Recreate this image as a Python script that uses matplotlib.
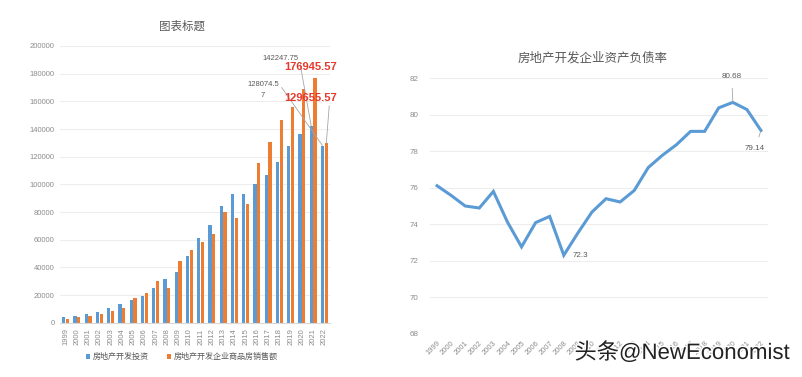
import matplotlib
matplotlib.use("Agg")
import matplotlib.pyplot as plt
import matplotlib.patheffects as pe
import numpy as np

plt.rcParams['font.family'] = ['Liberation Sans', 'Noto Sans CJK SC', 'DejaVu Sans']

years = [str(y) for y in range(1999, 2023)]

# 房地产开发投资 / 房地产开发企业商品房销售额
invest = [3900, 5060, 6300, 7950, 10400, 13300, 16200, 19500, 25300, 31370,
          36430, 48200, 61000, 70600, 84100, 92800, 93240, 100000, 106500,
          116150, 127500, 136400, 142247.75, 128074.57]
sales = [2900, 4100, 5060, 6300, 8240, 10850, 18070, 21250, 29900, 25300,
         44600, 52770, 58330, 63900, 80230, 75460, 86000, 115400, 130800,
         146300, 155700, 168900, 176945.57, 129655.57]

# 房地产开发企业资产负债率
ratio = [76.11, 75.58, 75.0, 74.89, 75.8, 74.12, 72.76, 74.09, 74.43, 72.3,
         73.52, 74.67, 75.4, 75.22, 75.85, 77.11, 77.78, 78.36, 79.09, 79.09,
         80.38, 80.68, 80.29, 79.14]

W, H = 802, 377
fig = plt.figure(figsize=(W / 100, H / 100), dpi=100)
fig.patch.set_facecolor('white')

blue = '#5B9BD5'
orange = '#ED7D31'
tick_c = '#8C8C8C'
grid_c = '#EDEDED'

# ---- left: bar chart ----
ax1 = fig.add_axes([60 / W, 1 - 322.7 / H, 270 / W, 276.7 / H])
x = np.arange(len(years))
bw = 0.3
ax1.bar(x - 0.17, invest, bw, color=blue, label='房地产开发投资')
ax1.bar(x + 0.17, sales, bw, color=orange, label='房地产开发企业商品房销售额')
ax1.set_xlim(-0.5, len(years) - 0.5)
ax1.set_ylim(0, 200000)
ax1.set_yticks(np.arange(0, 200001, 20000))
ax1.set_yticklabels([str(v) for v in range(0, 200001, 20000)], fontsize=5.5, color=tick_c)
ax1.set_xticks(x)
ax1.set_xticklabels(years, rotation=90, fontsize=5.5, color=tick_c)
ax1.tick_params(length=0, pad=4)
ax1.grid(axis='y', color=grid_c, linewidth=0.8)
ax1.set_axisbelow(True)
for s in ['top', 'right', 'left']:
    ax1.spines[s].set_visible(False)
ax1.spines['bottom'].set_color('#D9D9D9')
ax1.spines['bottom'].set_linewidth(0.8)

fig.text(182 / W, 1 - 27 / H, '图表标题', ha='center', va='center', fontsize=8.3, color='#595959')

leg = ax1.legend(loc='center', bbox_to_anchor=(182 / W, 1 - 357 / H), bbox_transform=fig.transFigure,
                 ncol=2, frameon=False, fontsize=5.8, handlelength=0.5, handleheight=0.5,
                 columnspacing=2.2, handletextpad=0.4)
for t in leg.get_texts():
    t.set_color('#595959')

lead = dict(arrowstyle='-', color='#A6A6A6', lw=0.6)
ax1.annotate('142247.75', xy=(22 - 0.17, invest[22]), xytext=(281, H - 58),
             textcoords='figure pixels', ha='center', va='center', fontsize=5.5, color='#595959',
             arrowprops=dict(lead, shrinkA=0, shrinkB=0, relpos=(1, 0.5)))
ax1.annotate('128074.5\n7', xy=(23 - 0.17, invest[23]), xytext=(263, H - 90),
             textcoords='figure pixels', ha='center', va='center', fontsize=5.5, color='#595959',
             linespacing=1.9, arrowprops=dict(lead, shrinkA=0, shrinkB=0, relpos=(1, 0.85)))
ax1.annotate('176945.57', xy=(22 + 0.17, sales[22]), xytext=(311, H - 67),
             textcoords='figure pixels', ha='center', va='center', fontsize=8, color='#E8392B',
             fontweight='bold')
ax1.annotate('129655.57', xy=(23 + 0.17, sales[23]), xytext=(311, H - 98),
             textcoords='figure pixels', ha='center', va='center', fontsize=8, color='#E8392B',
             fontweight='bold', arrowprops=dict(lead, shrinkA=0, shrinkB=0, relpos=(0.85, 0)))

# ---- right: line chart ----
ax2 = fig.add_axes([430 / W, 1 - 333.7 / H, 338 / W, 255.4 / H])
ax2.plot(x, ratio, color=blue, linewidth=2.2, solid_joinstyle='miter')
ax2.set_xlim(-0.5, len(years) - 0.5)
ax2.set_ylim(68, 82)
ax2.set_yticks(np.arange(68, 83, 2))
ax2.set_yticklabels([str(v) for v in range(68, 83, 2)], fontsize=5.8, color=tick_c)
ax2.set_xticks(x)
ax2.set_xticklabels(years, rotation=45, ha='right', rotation_mode='anchor', fontsize=5.5, color=tick_c)
ax2.tick_params(length=0, pad=4)
ax2.tick_params(axis='y', pad=8)
ax2.grid(axis='y', color=grid_c, linewidth=0.8)
for s in ax2.spines.values():
    s.set_visible(False)

fig.text(593 / W, 1 - 58 / H, '房地产开发企业资产负债率', ha='center', va='center', fontsize=9, color='#595959')

ax2.annotate('80.68', xy=(21, ratio[21]), xytext=(-1, 26), textcoords='offset pixels',
             ha='center', va='center', fontsize=5.8, color='#595959',
             arrowprops=dict(lead, shrinkA=4, shrinkB=0))
ax2.annotate('79.14', xy=(23, ratio[23]), xytext=(-6, -18), textcoords='offset pixels',
             ha='center', va='center', fontsize=5.8, color='#595959',
             arrowprops=dict(lead, shrinkA=4, shrinkB=1))
ax2.annotate('72.3', xy=(9, ratio[9]), xytext=(9, 0), textcoords='offset pixels',
             ha='left', va='center', fontsize=5.8, color='#595959')

fig.text(790 / W, 1 - 353 / H, '头条@NewEconomist', ha='right', va='center', fontsize=16,
         color='#222222', path_effects=[pe.withStroke(linewidth=2, foreground='white')])

fig.savefig('out.png', dpi=100)
